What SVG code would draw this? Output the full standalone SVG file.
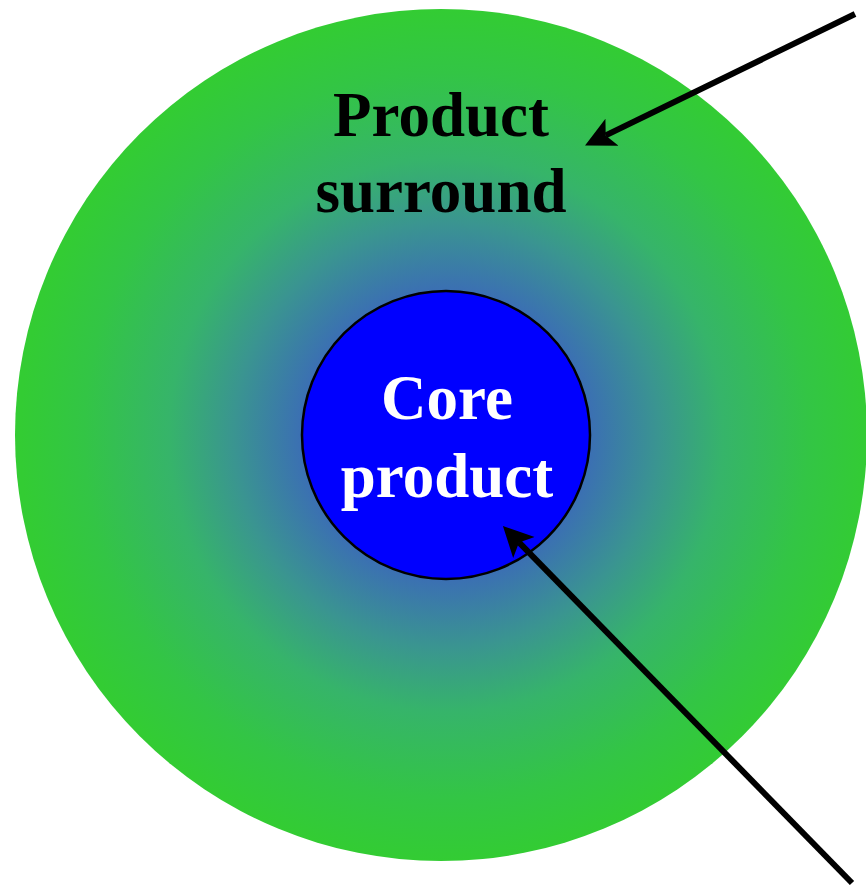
<svg xmlns="http://www.w3.org/2000/svg" width="866" height="887" viewBox="0 0 866 887">
  <defs>
    <radialGradient id="surroundGrad" cx="446" cy="435" r="426" gradientUnits="userSpaceOnUse">
      <stop offset="0" stop-color="#3a5fc4"/>
      <stop offset="0.33" stop-color="#3b6db5"/>
      <stop offset="0.5" stop-color="#3a9590"/>
      <stop offset="0.65" stop-color="#36b46a"/>
      <stop offset="0.85" stop-color="#33c545"/>
      <stop offset="1" stop-color="#33cc33"/>
    </radialGradient>
    <marker id="arrow" viewBox="0 -16 31 32" refX="7" refY="0" markerWidth="31" markerHeight="32" markerUnits="userSpaceOnUse" orient="auto">
      <path d="M30,0 L0,-15 L7,0 L0,15 z" fill="#000"/>
    </marker>
  </defs>
  <style>
    .label { font-family: "Liberation Serif", "Times New Roman", serif; font-weight: bold; font-size: 63px; text-anchor: middle; }
    .conn { stroke: #000; stroke-width: 6; fill: none; marker-end: url(#arrow); }
  </style>
  <rect width="866" height="887" fill="#ffffff"/>
  <g id="product-surround">
    <circle cx="441" cy="435" r="426" fill="url(#surroundGrad)"/>
    <text class="label" x="441" y="136" fill="#000">Product</text>
    <text class="label" x="441" y="212" fill="#000">surround</text>
  </g>
  <g id="core-product">
    <circle cx="446" cy="435" r="144" fill="#0000ff" stroke="#000" stroke-width="2.5"/>
    <text class="label" x="447" y="419" fill="#ffffff">Core</text>
    <text class="label" x="447" y="497" fill="#ffffff">product</text>
  </g>
  <g id="connectors">
    <line class="conn" x1="855" y1="14" x2="605.7" y2="135.4"/>
    <line class="conn" x1="852" y1="883" x2="519" y2="542.4"/>
  </g>
</svg>
